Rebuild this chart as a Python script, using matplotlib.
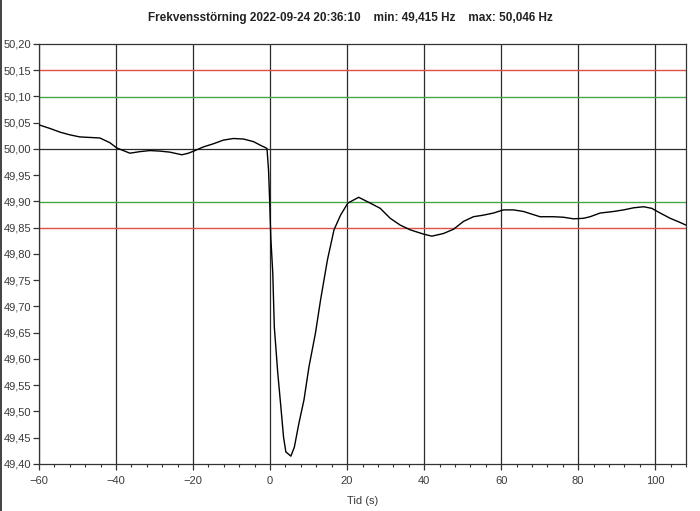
import matplotlib
matplotlib.use('Agg')
import matplotlib.pyplot as plt
from matplotlib.lines import Line2D
from matplotlib.ticker import MultipleLocator, FuncFormatter

# Frequency trace (seconds, Hz)
t = [-60.0, -57.1, -54.5, -52.0, -49.4, -46.8, -44.2, -41.6, -39.8, -38.1,
     -36.4, -33.8, -31.2, -28.6, -26.0, -22.9, -21.2, -19.5, -17.3, -14.7,
     -12.1, -9.5, -6.9, -4.3, -2.2, -1.3, -0.8, -0.4, -0.1, 0.2,
     0.7, 1.1, 2.0, 2.8, 3.5, 4.1, 5.4, 6.3, 7.5, 8.8,
     10.1, 11.8, 13.1, 14.9, 16.6, 18.3, 20.2, 23.0, 26.0, 28.6,
     31.2, 33.8, 36.4, 39.8, 42.0, 45.0, 47.6, 50.2, 52.8, 55.4,
     58.0, 60.6, 63.2, 65.8, 67.5, 70.1, 73.6, 76.2, 78.8, 81.4,
     83.1, 85.7, 89.2, 91.8, 94.4, 97.0, 99.1, 101.3, 103.9, 106.5, 108.0]
freq = [50.046, 50.039, 50.032, 50.027, 50.023, 50.022, 50.021, 50.012, 50.002, 49.997,
        49.992, 49.995, 49.997, 49.996, 49.994, 49.989, 49.992, 49.997, 50.004, 50.010,
        50.017, 50.020, 50.019, 50.014, 50.006, 50.003, 50.001, 49.960, 49.900, 49.830,
        49.764, 49.661, 49.573, 49.509, 49.451, 49.423, 49.415, 49.432, 49.478, 49.522,
        49.585, 49.650, 49.712, 49.789, 49.846, 49.874, 49.897, 49.908, 49.897, 49.887,
        49.868, 49.855, 49.846, 49.838, 49.834, 49.839, 49.847, 49.862, 49.871, 49.874,
        49.878, 49.884, 49.884, 49.881, 49.877, 49.871, 49.871, 49.870, 49.867, 49.868,
        49.871, 49.878, 49.881, 49.884, 49.888, 49.890, 49.887, 49.878, 49.868, 49.860, 49.855]

red_limits = [50.15, 49.85]
green_limits = [50.10, 49.90]
nominal = 50.00
x_major = [-60, -40, -20, 0, 20, 40, 60, 80, 100]

title = 'Frekvensstörning 2022-09-24 20:36:10    min: 49,415 Hz    max: 50,046 Hz'

plt.rcParams['font.family'] = ['Liberation Sans', 'DejaVu Sans']

fig = plt.figure(figsize=(7.0, 5.11), dpi=100)
ax = fig.add_axes([39 / 700, 1 - 464 / 511, 647 / 700, 420 / 511])

# vertical grid at the major time ticks
for xv in x_major:
    ax.axvline(xv, color='#2b2b2b', linewidth=0.9, zorder=1)
ax.axhline(nominal, color='#2b2b2b', linewidth=0.9, zorder=1)
for yv in red_limits:
    ax.axhline(yv, color='#e0504a', linewidth=1.0, zorder=1)
for yv in green_limits:
    ax.axhline(yv, color='#4aa64a', linewidth=1.0, zorder=1)

ax.plot(t, freq, color='black', linewidth=1.0, zorder=3)

ax.set_xlim(-60, 108)
ax.set_ylim(49.40, 50.20)
ax.set_xticks(x_major)
ax.xaxis.set_minor_locator(MultipleLocator(4))
ax.yaxis.set_major_locator(MultipleLocator(0.05))
ax.yaxis.set_major_formatter(FuncFormatter(lambda v, p: f'{v:.2f}'.replace('.', ',')))

ax.tick_params(axis='both', which='major', direction='out', length=4, width=0.9,
               labelsize=8, labelcolor='#3a3a3a', color='#333333')
ax.tick_params(axis='x', which='minor', direction='out', length=2.5, width=0.8, color='#333333')
ax.tick_params(axis='x', pad=5)
ax.tick_params(axis='y', pad=1.5)
for sp in ax.spines.values():
    sp.set_color('#333333')
    sp.set_linewidth(0.9)

ax.set_xlabel('Tid (s)', fontsize=8, color='#3a3a3a', labelpad=7)
fig.text(0.5, 1 - 18 / 511, title, ha='center', va='center',
         fontsize=8.5, fontweight='bold', color='#222222')

# left edge border of the screenshot
fig.add_artist(Line2D([0.0015, 0.0015], [0, 1], transform=fig.transFigure,
                      color='#222222', linewidth=1.2))

fig.savefig('out.png', dpi=100)
